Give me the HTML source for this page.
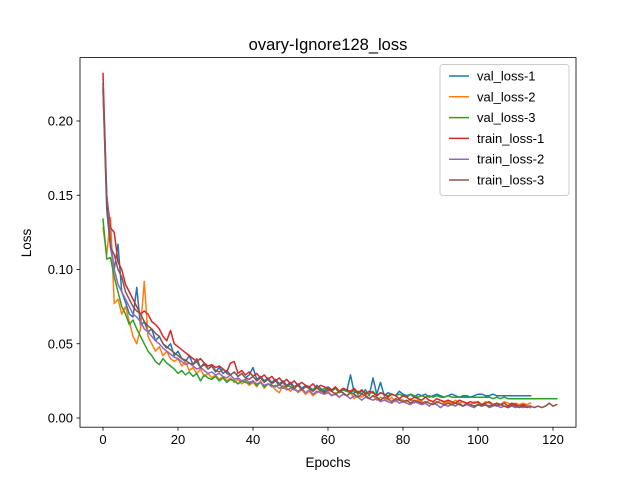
<!DOCTYPE html>
<html><head><meta charset="utf-8">
<style>
body{margin:0;background:#fff;}
svg{display:block;font-family:"Liberation Sans","DejaVu Sans",sans-serif;}
</style></head>
<body>
<svg id="chart" width="640" height="480" xmlns="http://www.w3.org/2000/svg">
<rect width="640" height="480" fill="#fff"/>
<text x="328" y="50" font-size="16.5" text-anchor="middle">ovary-Ignore128_loss</text>
<text x="328" y="467" font-size="13.5" text-anchor="middle">Epochs</text>
<text x="31" y="243" font-size="13.5" text-anchor="middle" transform="rotate(-90 31 243)">Loss</text>
<g id="marks"></g>
<g id="axes"></g>
<g id="legend"></g>
</svg>
<script>
const seriesNames = ["val_loss-1","val_loss-2","val_loss-3","train_loss-1","train_loss-2","train_loss-3"];
const seriesColors = ["#1f77b4","#ff7f0e","#2ca02c","#d62728","#9467bd","#8c564b"];
const xTicks = [0,20,40,60,80,100,120];
const yTicks = [0,0.05,0.10,0.15,0.20];
const yTickLabels = ["0.00","0.05","0.10","0.15","0.20"];
const val1 = [0.222,0.14,0.115,0.10,0.117,0.085,0.078,0.07,0.068,0.088,0.062,0.065,0.058,0.06,0.052,0.055,0.05,0.047,0.05,0.042,
0.045,0.04,0.038,0.042,0.036,0.038,0.034,0.037,0.033,0.035,0.031,0.034,0.03,0.032,0.029,0.031,0.028,0.03,0.027,0.029,
0.034,0.026,0.028,0.025,0.027,0.024,0.026,0.023,0.025,0.022,0.024,0.021,0.023,0.02,0.022,0.021,0.019,0.022,0.02,0.018,
0.021,0.019,0.02,0.017,0.019,0.018,0.029,0.017,0.018,0.016,0.019,0.015,0.027,0.016,0.024,0.015,0.017,0.016,0.015,0.018,
0.016,0.015,0.016,0.014,0.016,0.015,0.016,0.014,0.015,0.016,0.015,0.014,0.015,0.016,0.015,0.014,0.015,0.015,0.014,0.015,
0.016,0.016,0.015,0.015,0.016,0.015,0.015,0.015,0.015,0.015,0.015,0.015,0.015,0.015,0.015];
const val2 = [0.128,0.11,0.135,0.077,0.08,0.07,0.075,0.065,0.055,0.05,0.06,0.092,0.055,0.05,0.045,0.048,0.042,0.045,0.04,0.038,
0.04,0.035,0.038,0.032,0.034,0.03,0.033,0.028,0.03,0.027,0.029,0.026,0.028,0.025,0.027,0.024,0.026,0.023,0.025,0.022,
0.024,0.021,0.025,0.02,0.023,0.022,0.019,0.017,0.022,0.02,0.018,0.021,0.017,0.019,0.016,0.018,0.015,0.017,0.019,0.016,
0.018,0.015,0.017,0.014,0.016,0.015,0.017,0.013,0.015,0.014,0.016,0.013,0.015,0.012,0.014,0.013,0.012,0.014,0.011,0.013,
0.012,0.011,0.013,0.01,0.012,0.011,0.01,0.012,0.011,0.01,0.012,0.01,0.011,0.01,0.012,0.01,0.011,0.01,0.009,0.011,
0.01,0.009,0.011,0.01,0.009,0.01,0.009,0.011,0.01,0.009,0.01,0.009,0.01,0.009,0.01];
const val3 = [0.134,0.107,0.108,0.095,0.085,0.075,0.07,0.063,0.066,0.06,0.055,0.05,0.045,0.042,0.038,0.036,0.04,0.037,0.035,0.033,
0.03,0.032,0.029,0.031,0.028,0.03,0.025,0.029,0.027,0.026,0.028,0.025,0.027,0.024,0.026,0.025,0.023,0.025,0.024,0.023,
0.025,0.022,0.024,0.021,0.023,0.022,0.021,0.023,0.02,0.022,0.021,0.02,0.022,0.019,0.021,0.02,0.019,0.021,0.018,0.02,
0.019,0.018,0.02,0.017,0.019,0.018,0.017,0.019,0.016,0.018,0.017,0.016,0.018,0.015,0.017,0.016,0.015,0.016,0.015,0.016,
0.015,0.014,0.016,0.015,0.014,0.015,0.014,0.015,0.014,0.015,0.014,0.014,0.015,0.014,0.014,0.014,0.014,0.014,0.014,0.014,
0.014,0.014,0.014,0.014,0.013,0.014,0.013,0.014,0.013,0.013,0.013,0.013,0.013,0.013,0.013,0.013,0.013,0.013,0.013,0.013,
0.013,0.013];
const train1 = [0.232,0.15,0.128,0.125,0.105,0.1,0.09,0.085,0.08,0.075,0.07,0.072,0.07,0.065,0.063,0.06,0.055,0.052,0.059,0.05,
0.048,0.046,0.044,0.042,0.04,0.038,0.04,0.037,0.035,0.036,0.034,0.035,0.033,0.031,0.037,0.038,0.03,0.032,0.029,0.031,
0.028,0.03,0.027,0.029,0.026,0.028,0.025,0.027,0.024,0.026,0.023,0.025,0.022,0.024,0.022,0.021,0.023,0.02,0.022,0.021,
0.02,0.019,0.021,0.018,0.02,0.019,0.018,0.02,0.017,0.019,0.016,0.018,0.017,0.015,0.017,0.016,0.014,0.016,0.015,0.013,
0.015,0.014,0.012,0.014,0.013,0.012,0.014,0.012,0.011,0.013,0.012,0.011,0.012,0.011,0.01,0.012,0.011,0.01,0.011,0.01,
0.011,0.009,0.01,0.011,0.009,0.01,0.009,0.01,0.008,0.01,0.009,0.008,0.009,0.008,0.008];
const train2 = [0.22,0.15,0.12,0.1,0.09,0.085,0.08,0.075,0.07,0.068,0.065,0.06,0.058,0.055,0.052,0.05,0.047,0.045,0.043,0.041,
0.04,0.038,0.036,0.037,0.035,0.033,0.034,0.032,0.03,0.031,0.029,0.03,0.028,0.027,0.029,0.026,0.027,0.025,0.026,0.024,
0.025,0.023,0.024,0.022,0.023,0.021,0.022,0.02,0.021,0.019,0.02,0.019,0.018,0.02,0.017,0.019,0.016,0.018,0.017,0.016,
0.017,0.015,0.016,0.014,0.016,0.015,0.013,0.015,0.014,0.012,0.014,0.013,0.012,0.013,0.011,0.012,0.011,0.01,0.012,0.01,
0.011,0.01,0.009,0.011,0.01,0.009,0.01,0.008,0.01,0.009,0.007,0.009,0.008,0.009,0.008,0.01,0.008,0.009,0.008,0.007,
0.009,0.008,0.009,0.007,0.008,0.009,0.007,0.008,0.007,0.008,0.007,0.008,0.007,0.008,0.007];
const train3 = [0.225,0.145,0.115,0.11,0.1,0.095,0.085,0.08,0.075,0.072,0.07,0.065,0.062,0.06,0.057,0.055,0.05,0.048,0.046,0.044,
0.042,0.04,0.039,0.037,0.036,0.04,0.034,0.036,0.033,0.035,0.032,0.031,0.033,0.03,0.029,0.031,0.028,0.03,0.027,0.026,
0.028,0.025,0.027,0.024,0.026,0.023,0.025,0.022,0.024,0.021,0.023,0.02,0.022,0.019,0.021,0.02,0.018,0.02,0.019,0.017,
0.019,0.018,0.016,0.018,0.017,0.015,0.017,0.016,0.014,0.016,0.015,0.013,0.015,0.014,0.012,0.014,0.013,0.011,0.013,0.012,
0.011,0.012,0.01,0.012,0.011,0.01,0.011,0.01,0.009,0.011,0.01,0.009,0.01,0.009,0.01,0.009,0.008,0.01,0.009,0.008,
0.009,0.008,0.009,0.008,0.009,0.008,0.009,0.008,0.007,0.009,0.008,0.007,0.008,0.007,0.008,0.007,0.008,0.007,0.008,0.01,
0.008,0.009];
const seriesData = [val1,val2,val3,train1,train2,train3];

const NS="http://www.w3.org/2000/svg";
const L=80,R=576,T=57.6,B=427.2;
const xScale = v => 103 + v*3.75;
const yScale = v => 418 - v*1485;
function mk(tag, attrs, parent){const e=document.createElementNS(NS,tag);for(const k in attrs)e.setAttribute(k,attrs[k]);parent.appendChild(e);return e;}

const marks=document.getElementById('marks');
seriesData.forEach((d,i)=>{
  const pts=d.map((v,j)=>xScale(j).toFixed(2)+","+yScale(v).toFixed(2)).join(" ");
  const pl=mk('polyline',{points:pts,fill:'none',stroke:seriesColors[i],'stroke-width':1.5,'stroke-linejoin':'round','stroke-linecap':'square'},marks);
  
  
});

const axes=document.getElementById('axes');
const frame=mk('rect',{x:L,y:T,width:R-L,height:B-T,fill:'none',stroke:'#000','stroke-width':0.8},axes);


xTicks.forEach(t=>{
  const x=xScale(t);
  const tk=mk('line',{x1:x,x2:x,y1:B,y2:B+3.5,stroke:'#000','stroke-width':0.8},axes);
  
  
  const tx=mk('text',{x:x,y:B+17,'font-size':13,'text-anchor':'middle'},axes);
  tx.textContent=t;
  
  
});
yTicks.forEach((t,i)=>{
  const y=yScale(t);
  const tk=mk('line',{x1:L-3.5,x2:L,y1:y,y2:y,stroke:'#000','stroke-width':0.8},axes);
  
  
  const tx=mk('text',{x:L-7,y:y+4.5,'font-size':13,'text-anchor':'end'},axes);
  tx.textContent=yTickLabels[i];
  
  
});

const lg=document.getElementById('legend');
const box=mk('rect',{x:440,y:64.5,width:129,height:131,rx:3,fill:'#fff','fill-opacity':0.8,stroke:'#ccc','stroke-width':1},lg);


seriesNames.forEach((n,i)=>{
  const y=76+i*20.8;
  const ln=mk('line',{x1:449,x2:469,y1:y,y2:y,stroke:seriesColors[i],'stroke-width':1.5},lg);
  
  
  const tx=mk('text',{x:477,y:y+4.5,'font-size':13},lg);
  tx.textContent=n;
  
  
});
</script>
</body></html>
